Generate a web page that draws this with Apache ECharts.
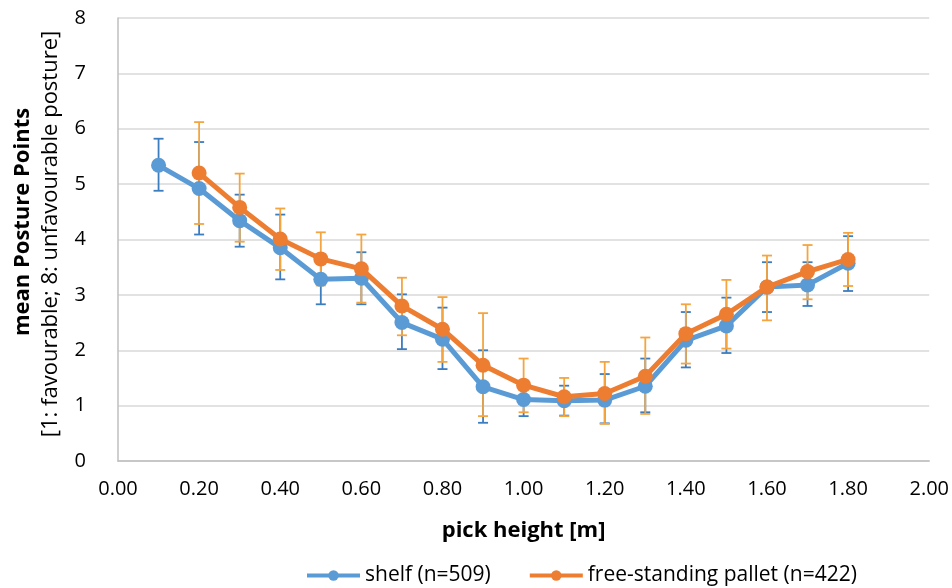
<!DOCTYPE html>
<html>
<head>
<meta charset="utf-8">
<script src="https://cdn.jsdelivr.net/npm/echarts@6/dist/echarts.min.js"></script>
<style>
  html, body { margin: 0; padding: 0; background: #fff; }
  #chart { width: 952px; height: 588px; }
</style>
</head>
<body>
<div id="chart"></div>
<script>
// pick heights [m]
var shelfX = [0.1, 0.2, 0.3, 0.4, 0.5, 0.6, 0.7, 0.8, 0.9, 1.0, 1.1, 1.2, 1.3, 1.4, 1.5, 1.6, 1.7, 1.8];
var shelfMean = [5.34, 4.92, 4.34, 3.85, 3.28, 3.30, 2.50, 2.20, 1.34, 1.11, 1.09, 1.10, 1.35, 2.18, 2.44, 3.14, 3.18, 3.57];
var shelfHigh = [5.82, 5.76, 4.81, 4.45, 3.73, 3.77, 3.01, 2.77, 2.00, 1.41, 1.36, 1.57, 1.85, 2.69, 2.95, 3.59, 3.59, 4.06];
var shelfLow = [4.88, 4.09, 3.87, 3.28, 2.83, 2.83, 2.02, 1.66, 0.69, 0.81, 0.82, 0.68, 0.88, 1.69, 1.95, 2.69, 2.80, 3.07];

var palletX = [0.2, 0.3, 0.4, 0.5, 0.6, 0.7, 0.8, 0.9, 1.0, 1.1, 1.2, 1.3, 1.4, 1.5, 1.6, 1.7, 1.8];
var palletMean = [5.20, 4.58, 4.01, 3.65, 3.47, 2.80, 2.38, 1.73, 1.37, 1.16, 1.22, 1.53, 2.30, 2.65, 3.14, 3.42, 3.64];
var palletHigh = [6.12, 5.19, 4.56, 4.13, 4.09, 3.31, 2.96, 2.67, 1.85, 1.50, 1.79, 2.23, 2.83, 3.27, 3.71, 3.90, 4.12];
var palletLow = [4.28, 3.96, 3.45, 3.17, 2.86, 2.27, 1.79, 0.81, 0.88, 0.81, 0.67, 0.85, 1.76, 2.03, 2.54, 2.92, 3.16];

var FONT = 'Open Sans';

function pairs(xs, ys) {
  return xs.map(function (x, i) { return [x, ys[i]]; });
}
function bars(xs, lo, hi) {
  return xs.map(function (x, i) { return [x, lo[i], hi[i]]; });
}

function errorSeries(data, color) {
  return {
    type: 'custom',
    data: data,
    silent: true,
    encode: { x: 0, y: [1, 2] },
    renderItem: function (params, api) {
      var top = api.coord([api.value(0), api.value(2)]);
      var bot = api.coord([api.value(0), api.value(1)]);
      var w = 5;
      var style = { stroke: color, lineWidth: 1.8 };
      return {
        type: 'group',
        children: [
          { type: 'line', shape: { x1: top[0], y1: top[1], x2: bot[0], y2: bot[1] }, style: style },
          { type: 'line', shape: { x1: top[0] - w, y1: top[1], x2: top[0] + w, y2: top[1] }, style: style },
          { type: 'line', shape: { x1: bot[0] - w, y1: bot[1], x2: bot[0] + w, y2: bot[1] }, style: style }
        ]
      };
    }
  };
}

var chart = echarts.init(document.getElementById('chart'));
chart.setOption({
  animation: false,
  textStyle: { fontFamily: FONT },
  grid: { left: 118, right: 14, top: 18, bottom: 127, containLabel: false },
  xAxis: {
    type: 'value',
    min: 0,
    max: 2,
    interval: 0.2,
    name: 'pick height [m]',
    nameLocation: 'middle',
    nameGap: 59,
    nameTextStyle: { fontFamily: FONT, fontSize: 22, fontWeight: 'bold', color: '#000' },
    axisLine: { show: true, lineStyle: { color: '#bfbfbf', width: 1.5 } },
    axisTick: { show: false },
    axisLabel: {
      color: '#000', fontSize: 20, fontFamily: FONT, margin: 18,
      formatter: function (v) { return v.toFixed(2); }
    },
    splitLine: { show: false }
  },
  yAxis: {
    type: 'value',
    min: 0,
    max: 8,
    interval: 1,
    axisLine: { show: true, lineStyle: { color: '#bfbfbf', width: 1.5 } },
    axisTick: { show: false },
    axisLabel: { color: '#000', fontSize: 20, fontFamily: FONT, margin: 32 },
    splitLine: { show: true, lineStyle: { color: '#d9d9d9', width: 1.5 } }
  },
  legend: {
    top: 560,
    left: 300,
    itemWidth: 53,
    itemHeight: 13,
    itemGap: 37,
    lineStyle: { width: 4 },
    textStyle: { fontFamily: FONT, fontSize: 21, color: '#000' },
    data: ['shelf (n=509)', 'free-standing pallet (n=422)']
  },
  graphic: [
    {
      type: 'text',
      x: 23, y: 222,
      rotation: Math.PI / 2,
      style: {
        text: 'mean Posture Points',
        font: 'bold 22px "Open Sans"',
        fill: '#000',
        align: 'center',
        verticalAlign: 'middle'
      }
    },
    {
      type: 'text',
      x: 51, y: 234,
      rotation: Math.PI / 2,
      style: {
        text: '[1: favourable; 8: unfavourable posture]',
        font: '22px "Open Sans"',
        fill: '#000',
        align: 'center',
        verticalAlign: 'middle'
      }
    }
  ],
  series: [
    errorSeries(bars(shelfX, shelfLow, shelfHigh), '#3c7dc0'),
    {
      name: 'shelf (n=509)',
      type: 'line',
      data: pairs(shelfX, shelfMean),
      symbol: 'circle',
      symbolSize: 15,
      lineStyle: { color: '#5b9bd5', width: 5 },
      itemStyle: { color: '#5b9bd5' },
      z: 3
    },
    errorSeries(bars(palletX, palletLow, palletHigh), '#f4a540'),
    {
      name: 'free-standing pallet (n=422)',
      type: 'line',
      data: pairs(palletX, palletMean),
      symbol: 'circle',
      symbolSize: 15,
      lineStyle: { color: '#ed7d31', width: 5 },
      itemStyle: { color: '#ed7d31' },
      z: 4
    }
  ]
});
</script>
</body>
</html>
